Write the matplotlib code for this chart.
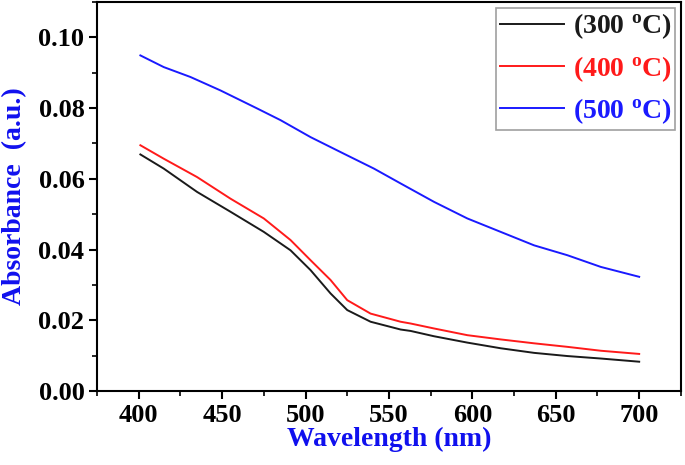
import matplotlib
matplotlib.use('Agg')
import matplotlib.pyplot as plt

plt.rcParams['font.family'] = 'Liberation Serif'
plt.rcParams['font.weight'] = 'bold'
plt.rcParams['mathtext.fontset'] = 'custom'
plt.rcParams['mathtext.bf'] = 'Liberation Serif:bold'
plt.rcParams['mathtext.rm'] = 'Liberation Serif:bold'
plt.rcParams['mathtext.default'] = 'bf'

wl_300 = [401, 415, 435, 455, 475, 491, 503, 515, 525, 539, 557, 563, 577, 597, 617, 637, 657, 677, 700]
abs_300 = [0.0669, 0.0629, 0.0563, 0.0507, 0.0450, 0.0398, 0.0342, 0.0276, 0.0229, 0.0196,
           0.0174, 0.0170, 0.0155, 0.0137, 0.0121, 0.0108, 0.0099, 0.0092, 0.0083]

wl_400 = [401, 415, 435, 455, 475, 491, 503, 515, 525, 539, 557, 563, 577, 597, 617, 637, 657, 677, 700]
abs_400 = [0.0695, 0.0657, 0.0605, 0.0544, 0.0488, 0.0427, 0.0370, 0.0314, 0.0257, 0.0219,
           0.0196, 0.0191, 0.0177, 0.0158, 0.0146, 0.0135, 0.0125, 0.0114, 0.0105]

wl_500 = [401, 415, 431, 449, 471, 485, 503, 523, 541, 557, 577, 597, 617, 637, 657, 677, 700]
abs_500 = [0.0949, 0.0916, 0.0888, 0.0850, 0.0799, 0.0766, 0.0718, 0.0671, 0.0629, 0.0587,
           0.0535, 0.0488, 0.0450, 0.0412, 0.0384, 0.0351, 0.0323]

labels = ['(300 $^{o}$C)', '(400 $^{o}$C)', '(500 $^{o}$C)']
colors = ['#1a1a1a', '#ff1a1a', '#1a1aff']

fig = plt.figure(figsize=(6.85, 4.65), dpi=100)
ax = fig.add_axes([0.1416, 0.159, 0.8524, 0.8367])

ax.plot(wl_300, abs_300, color=colors[0], lw=1.4, label=labels[0])
ax.plot(wl_400, abs_400, color=colors[1], lw=1.4, label=labels[1])
ax.plot(wl_500, abs_500, color=colors[2], lw=1.4, label=labels[2])

ax.set_xlim(375, 725)
ax.set_ylim(0, 0.11)
ax.set_xticks([400, 450, 500, 550, 600, 650, 700])
ax.set_xticks(range(375, 726, 25), minor=True)
ax.set_yticks([0.0, 0.02, 0.04, 0.06, 0.08, 0.10])
ax.set_yticks([i * 0.01 for i in range(12)], minor=True)
ax.set_yticklabels(['0.00', '0.02', '0.04', '0.06', '0.08', '0.10'])

ax.tick_params(which='major', direction='out', length=6, width=1.5, labelsize=19, pad=3)
ax.tick_params(which='minor', direction='out', length=3.5, width=1.2)
ax.tick_params(top=False, right=False)
for sp in ax.spines.values():
    sp.set_linewidth(1.5)

ax.set_xlabel('Wavelength (nm)', fontsize=20, fontweight='bold', color='#1010ee', labelpad=0)
ax.set_ylabel('Absorbance  (a.u.)', fontsize=20, fontweight='bold', color='#1010ee', labelpad=8)

leg = ax.legend(loc='upper right', fontsize=20, frameon=True, fancybox=False,
                edgecolor='#888888', handlelength=2.3, handletextpad=0.3,
                labelspacing=0.45, borderaxespad=0.2, borderpad=0.15)
leg.get_frame().set_linewidth(1.2)
for txt, c in zip(leg.get_texts(), colors):
    txt.set_color(c)

fig.savefig('out.png', dpi=100)
